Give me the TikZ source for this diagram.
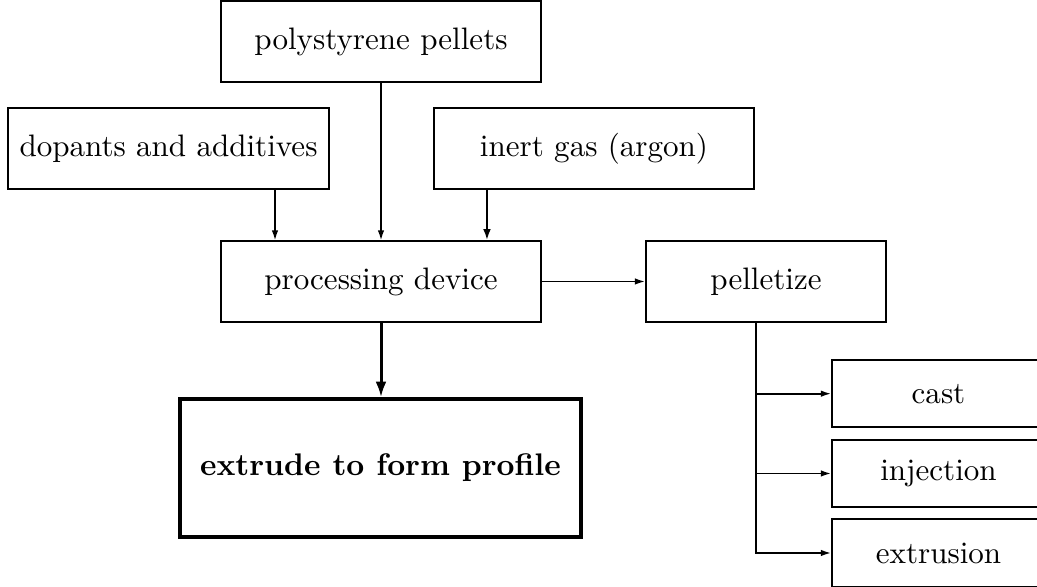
\documentclass[tikz,border=0pt]{standalone}
\usetikzlibrary{arrows.meta}
\begin{document}
\begin{tikzpicture}[x=0.3333pt,y=-0.3333pt,
  box/.style={draw,line width=0.65pt,inner sep=0pt,font=\fontsize{10.35}{12}\selectfont,minimum width=106.7pt,minimum height=26.7pt},
  thickbox/.style={box,line width=1.1pt,font=\fontsize{10.4}{12}\selectfont\bfseries,minimum width=133.7pt,minimum height=46pt},
  outbox/.style={box,minimum width=71pt,minimum height=22.4pt},
  arr/.style={line width=0.55pt,-{Latex[length=3.4pt,width=2.2pt]}},
  arrmid/.style={line width=0.8pt,-{Latex[length=3.8pt,width=2.6pt]}},
  arrthick/.style={line width=1pt,-{Latex[length=5.2pt,width=3.6pt]}}]
\clip (0,0) rectangle (1037,587);
\node[box] (ps) at (381,41.5) {polystyrene pellets};
\node[box] (dop) at (168.5,148.5) {dopants and additives};
\node[box] (ig) at (594,148.5) {inert gas (argon)};
\node[box] (pd) at (381,281.5) {processing device};
\node[box,minimum width=80pt] (pel) at (766,281.5) {pelletize};
\node[thickbox] (ex) at (380.5,468) {extrude to form profile};
\node[outbox] (cast) at (938.5,393.7) {cast};
\node[outbox] (inj) at (938.5,473.5) {injection};
\node[outbox] (extr) at (938.5,553) {extrusion};
\coordinate (dA) at ([xshift=35.5pt]dop.south);
\coordinate (iA) at ([xshift=-35.67pt]ig.south);
\coordinate (j) at ([xshift=-3.33pt]pel.south);
\draw[arr] (dA) -- (dA |- pd.north);
\draw[arr] (ps.south) -- (pd.north);
\draw[arrmid] (iA) -- (iA |- pd.north);
\draw[arrthick] (pd.south) -- (pd.south |- ex.north);
\draw[arr] (pd.east) -- (pel.west);
\draw[arr] (j) |- (extr.west);
\draw[arr] (j |- cast.west) -- (cast.west);
\draw[arr] (j |- inj.west) -- (inj.west);
\end{tikzpicture}
\end{document}
